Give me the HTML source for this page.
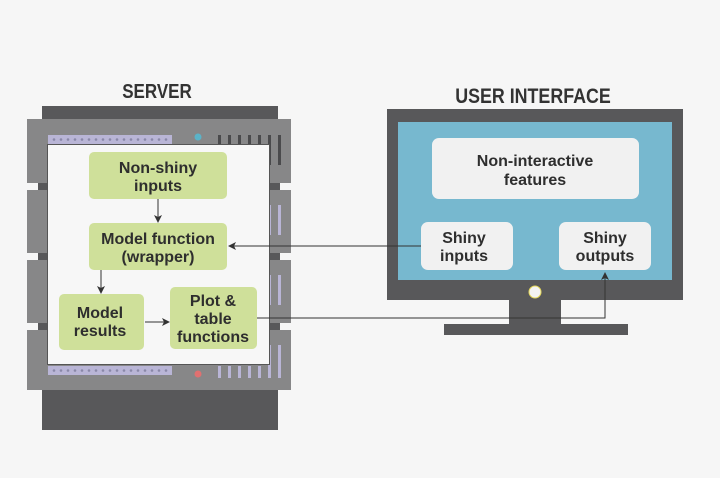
<!DOCTYPE html>
<html><head><style>
html,body{margin:0;padding:0;background:#f6f6f6;}
svg{display:block;font-family:"Liberation Sans",sans-serif;}
</style></head><body>
<svg width="720" height="478" viewBox="0 0 720 478" xmlns="http://www.w3.org/2000/svg">
<defs>
<marker id="ah" markerWidth="8" markerHeight="8" refX="7" refY="4" orient="auto" markerUnits="userSpaceOnUse">
<path d="M0,0 L8,4 L0,8 L2,4 Z" fill="#333"/></marker>
</defs>
<rect x="0" y="0" width="720" height="478" fill="#f6f6f6"/>
<text x="157" y="98" text-anchor="middle" font-size="20" font-weight="bold" fill="#333" transform="translate(157,0) scale(0.85,1) translate(-157,0)">SERVER</text>
<text x="533" y="103" text-anchor="middle" font-size="21" font-weight="bold" fill="#333" transform="translate(533,0) scale(0.85,1) translate(-533,0)">USER INTERFACE</text>
<rect x="42" y="106" width="236" height="14" fill="#58585a"/>
<rect x="42" y="388" width="236" height="42" fill="#58585a"/>
<rect x="27" y="119" width="264" height="64" fill="#878788"/>
<rect x="27" y="190" width="264" height="63" fill="#878788"/>
<rect x="27" y="260" width="264" height="63" fill="#878788"/>
<rect x="27" y="330" width="264" height="60" fill="#878788"/>
<rect x="38" y="183" width="242" height="7" fill="#58585a"/>
<rect x="38" y="253" width="242" height="7" fill="#58585a"/>
<rect x="38" y="323" width="242" height="7" fill="#58585a"/>
<rect x="48" y="135" width="124" height="9" fill="#b9b5d6"/>
<rect x="48" y="366" width="124" height="9" fill="#b9b5d6"/>
<g fill="#8a88a8">
<circle cx="54" cy="139.5" r="1.3"/><circle cx="61" cy="139.5" r="1.3"/><circle cx="68" cy="139.5" r="1.3"/><circle cx="75" cy="139.5" r="1.3"/><circle cx="82" cy="139.5" r="1.3"/><circle cx="89" cy="139.5" r="1.3"/><circle cx="96" cy="139.5" r="1.3"/><circle cx="103" cy="139.5" r="1.3"/><circle cx="110" cy="139.5" r="1.3"/><circle cx="117" cy="139.5" r="1.3"/><circle cx="124" cy="139.5" r="1.3"/><circle cx="131" cy="139.5" r="1.3"/><circle cx="138" cy="139.5" r="1.3"/><circle cx="145" cy="139.5" r="1.3"/><circle cx="152" cy="139.5" r="1.3"/><circle cx="159" cy="139.5" r="1.3"/><circle cx="166" cy="139.5" r="1.3"/>
<circle cx="54" cy="370.5" r="1.3"/><circle cx="61" cy="370.5" r="1.3"/><circle cx="68" cy="370.5" r="1.3"/><circle cx="75" cy="370.5" r="1.3"/><circle cx="82" cy="370.5" r="1.3"/><circle cx="89" cy="370.5" r="1.3"/><circle cx="96" cy="370.5" r="1.3"/><circle cx="103" cy="370.5" r="1.3"/><circle cx="110" cy="370.5" r="1.3"/><circle cx="117" cy="370.5" r="1.3"/><circle cx="124" cy="370.5" r="1.3"/><circle cx="131" cy="370.5" r="1.3"/><circle cx="138" cy="370.5" r="1.3"/><circle cx="145" cy="370.5" r="1.3"/><circle cx="152" cy="370.5" r="1.3"/><circle cx="159" cy="370.5" r="1.3"/><circle cx="166" cy="370.5" r="1.3"/>
</g>
<circle cx="198" cy="137" r="3.5" fill="#5bb3c8"/>
<circle cx="198" cy="374" r="3.5" fill="#e07070"/>
<g fill="#4a4a4c">
<rect x="218" y="135" width="3" height="12"/><rect x="228" y="135" width="3" height="12"/><rect x="238" y="135" width="3" height="12"/><rect x="248" y="135" width="3" height="12"/><rect x="258" y="135" width="3" height="12"/><rect x="268" y="135" width="3" height="30"/><rect x="278" y="135" width="3" height="30"/>
</g>
<g fill="#b9b5d6">
<rect x="218" y="366" width="3" height="12"/><rect x="228" y="366" width="3" height="12"/><rect x="238" y="366" width="3" height="12"/><rect x="248" y="366" width="3" height="12"/><rect x="258" y="366" width="3" height="12"/><rect x="268" y="345" width="3" height="33"/><rect x="278" y="345" width="3" height="33"/>
<rect x="268" y="205" width="3" height="30"/><rect x="278" y="205" width="3" height="30"/>
<rect x="268" y="275" width="3" height="30"/><rect x="278" y="275" width="3" height="30"/>
</g>
<rect x="47.5" y="144.5" width="222" height="220" fill="#f7f7f7" stroke="#555" stroke-width="1"/>
<g fill="#cfe09a">
<rect x="89" y="152" width="138" height="47" rx="5"/>
<rect x="89" y="223" width="138" height="47" rx="5"/>
<rect x="59" y="294" width="85" height="56" rx="5"/>
<rect x="170" y="287" width="87" height="62" rx="5"/>
</g>
<g font-size="16" font-weight="bold" fill="#2e2e2e" text-anchor="middle">
<text x="158" y="173">Non-shiny</text><text x="158" y="191">inputs</text>
<text x="158" y="244">Model function</text><text x="158" y="262">(wrapper)</text>
<text x="100" y="318">Model</text><text x="100" y="336">results</text>
<text x="213" y="306">Plot &amp;</text><text x="213" y="324">table</text><text x="213" y="342">functions</text>
</g>
<g stroke="#333" stroke-width="1" fill="none">
<line x1="158" y1="199" x2="158" y2="222" marker-end="url(#ah)"/>
<line x1="101" y1="270" x2="101" y2="293" marker-end="url(#ah)"/>
<line x1="145" y1="322" x2="169" y2="322" marker-end="url(#ah)"/>
</g>
<rect x="509" y="298" width="52" height="26" fill="#58585a"/>
<rect x="444" y="324" width="184" height="11" fill="#58585a"/>
<rect x="387" y="109" width="296" height="191" fill="#58585a"/>
<rect x="398" y="122" width="274" height="158" fill="#77b8cf"/>
<circle cx="535" cy="292" r="6" fill="#f3f3f3" stroke="#e5d85a" stroke-width="1"/>
<g fill="#f1f1f1">
<rect x="432" y="138" width="207" height="61" rx="7"/>
<rect x="421" y="222" width="92" height="48" rx="7"/>
<rect x="559" y="222" width="92" height="48" rx="7"/>
</g>
<g font-size="16" font-weight="bold" fill="#2e2e2e" text-anchor="middle">
<text x="535" y="166">Non-interactive</text><text x="535" y="185">features</text>
<text x="464" y="243">Shiny</text><text x="464" y="261">inputs</text>
<text x="605" y="243">Shiny</text><text x="605" y="261">outputs</text>
</g>
<g stroke="#333" stroke-width="1" fill="none">
<line x1="421" y1="246" x2="229" y2="246" marker-end="url(#ah)"/>
<polyline points="257,318 605,318 605,273" marker-end="url(#ah)"/>
</g>
</svg>
</body></html>
